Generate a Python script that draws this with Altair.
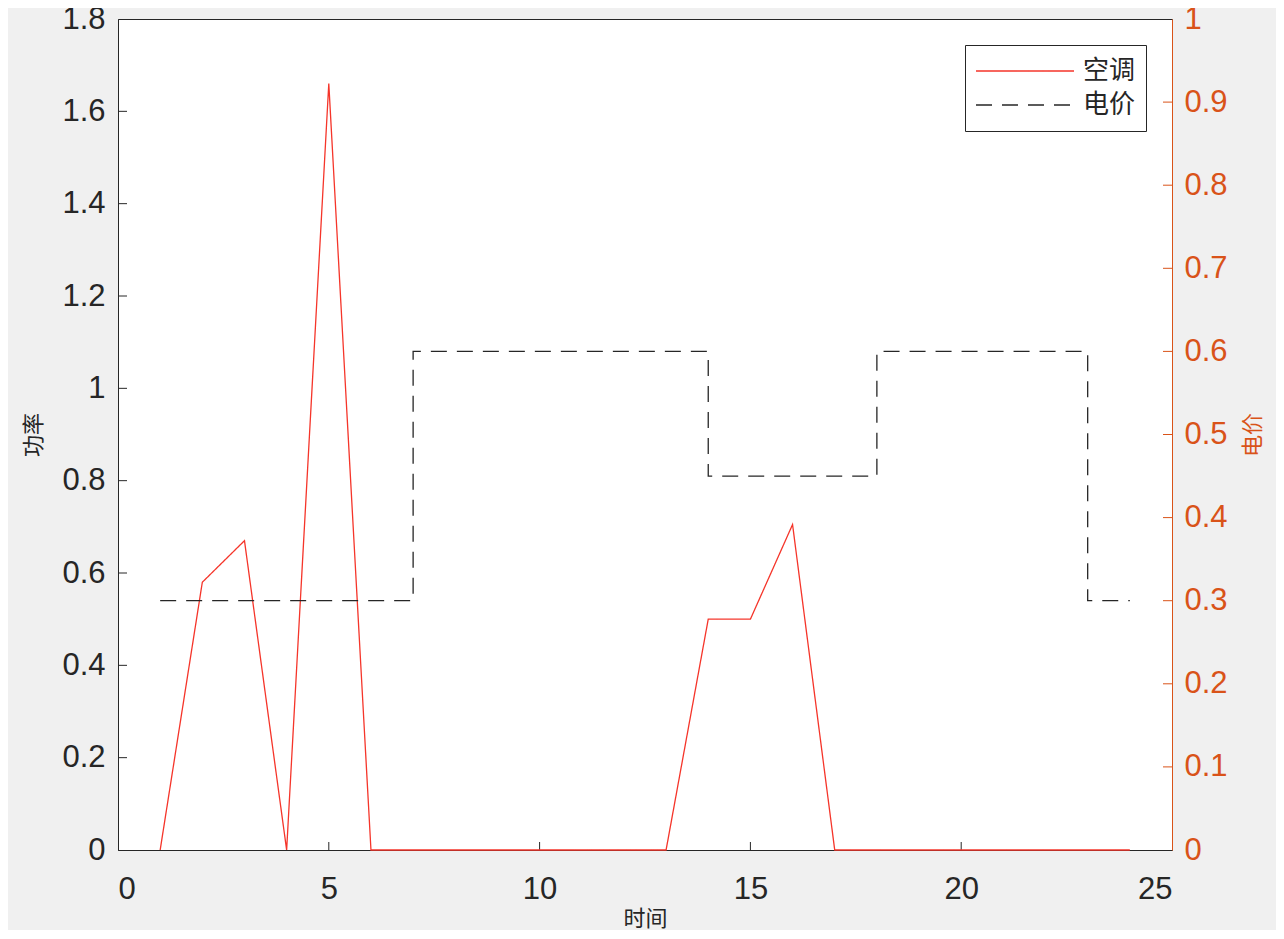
import altair as alt
import pandas as pd

# ---- data ----
hours = list(range(1, 25))
ac_power = [0, 0.58, 0.67, 0, 1.66, 0, 0, 0, 0, 0, 0, 0, 0,
            0.5, 0.5, 0.705, 0, 0, 0, 0, 0, 0, 0, 0]
price = [0.3, 0.3, 0.3, 0.3, 0.3, 0.3, 0.6, 0.6, 0.6, 0.6, 0.6, 0.6, 0.6,
         0.45, 0.45, 0.45, 0.45, 0.6, 0.6, 0.6, 0.6, 0.6, 0.3, 0.3]
series_names = ["空调", "电价"]
x_ticks = [0, 5, 10, 15, 20, 25]
left_ticks = [0, 0.2, 0.4, 0.6, 0.8, 1.0, 1.2, 1.4, 1.6, 1.8]
right_ticks = [0, 0.1, 0.2, 0.3, 0.4, 0.5, 0.6, 0.7, 0.8, 0.9, 1.0]

W, H = 1054, 831
DARK = "#262626"
ORANGE = "#D95319"
RED = "#f5352a"
NUM_FONT = "Liberation Sans"
CJK_FONT = "Noto Sans CJK SC"

ac_df = pd.DataFrame({"时间": hours, "值": ac_power, "series": series_names[0]})
price_df = pd.DataFrame({"时间": hours, "值": price, "series": series_names[1]})

x_scale = alt.Scale(domain=[0, 25], nice=False, zero=False)
yl_scale = alt.Scale(domain=[0, 1.8], nice=False)
yr_scale = alt.Scale(domain=[0, 1], nice=False)

legend = alt.Legend(
    title=None, orient="none", legendX=847, legendY=26,
    symbolType="stroke", symbolSize=9604, symbolStrokeWidth=1.3,
    clipHeight=32, rowPadding=2, padding=10, labelOffset=8,
    labelFont=CJK_FONT, labelFontSize=26, labelColor=DARK,
    strokeColor=DARK, fillColor="white", cornerRadius=0,
)
color = alt.Color("series:N", scale=alt.Scale(domain=series_names, range=[RED, DARK]), legend=legend)
dash = alt.StrokeDash("series:N", scale=alt.Scale(domain=series_names, range=[[1, 0], [16, 10]]), legend=legend)

x_axis = alt.Axis(
    values=x_ticks, tickSize=0, grid=False, labelFont=NUM_FONT, labelFontSize=31,
    labelColor=DARK, labelPadding=24, domainColor=DARK, title="时间",
    titleFont=CJK_FONT, titleFontSize=22, titleFontWeight="normal", titleColor=DARK, titlePadding=4,
)

ac_line = alt.Chart(ac_df).mark_line(strokeWidth=1.3).encode(
    x=alt.X("时间:Q", scale=x_scale, axis=x_axis),
    y=alt.Y("值:Q", scale=yl_scale, axis=alt.Axis(
        orient="left", values=left_ticks, format="~g", tickSize=0, grid=False,
        labelFont=NUM_FONT, labelFontSize=31, labelColor=DARK, labelPadding=13,
        domainColor=DARK, title="功率", titleFont=CJK_FONT, titleFontSize=22,
        titleFontWeight="normal", titleColor=DARK, titlePadding=16)),
    color=color, strokeDash=dash,
)

price_line = alt.Chart(price_df).mark_line(strokeWidth=1.3, interpolate="step-after").encode(
    x=alt.X("时间:Q", scale=x_scale),
    y=alt.Y("值:Q", scale=yr_scale, axis=alt.Axis(
        orient="right", values=right_ticks, format="~g", tickSize=0, grid=False,
        labelFont=NUM_FONT, labelFontSize=31, labelColor=ORANGE, labelPadding=12,
        domainColor=ORANGE, title="电价", titleFont=CJK_FONT, titleFontSize=22,
        titleFontWeight="normal", titleColor=ORANGE, titlePadding=15, titleAngle=270,
        titleBaseline="top", zindex=1)),
    color=color, strokeDash=dash,
)

xt = alt.Chart(pd.DataFrame({"v": x_ticks[1:-1]})).mark_rule(color=DARK, strokeWidth=1).encode(
    x=alt.X("v:Q", scale=x_scale), y=alt.value(H), y2=alt.value(H - 8))
lt = alt.Chart(pd.DataFrame({"v": left_ticks[1:-1]})).mark_rule(color=DARK, strokeWidth=1).encode(
    y=alt.Y("v:Q", scale=yl_scale, axis=None), x=alt.value(0), x2=alt.value(9))
rt = alt.Chart(pd.DataFrame({"v": right_ticks[1:-1]})).mark_rule(color=ORANGE, strokeWidth=1).encode(
    y=alt.Y("v:Q", scale=yr_scale, axis=None), x=alt.value(W), x2=alt.value(W - 9))

chart = alt.layer(xt, lt, ac_line, price_line, rt).resolve_scale(
    y="independent"
).properties(
    width=W, height=H,
    autosize=alt.AutoSizeParams(type="none"),
    padding={"left": 110, "top": 11, "right": 104, "bottom": 80},
    background="#f0f0f0",
).configure_view(fill="white", stroke=DARK, strokeWidth=1)

chart.save("out.html", embed_options={"renderer": "svg", "actions": False})
